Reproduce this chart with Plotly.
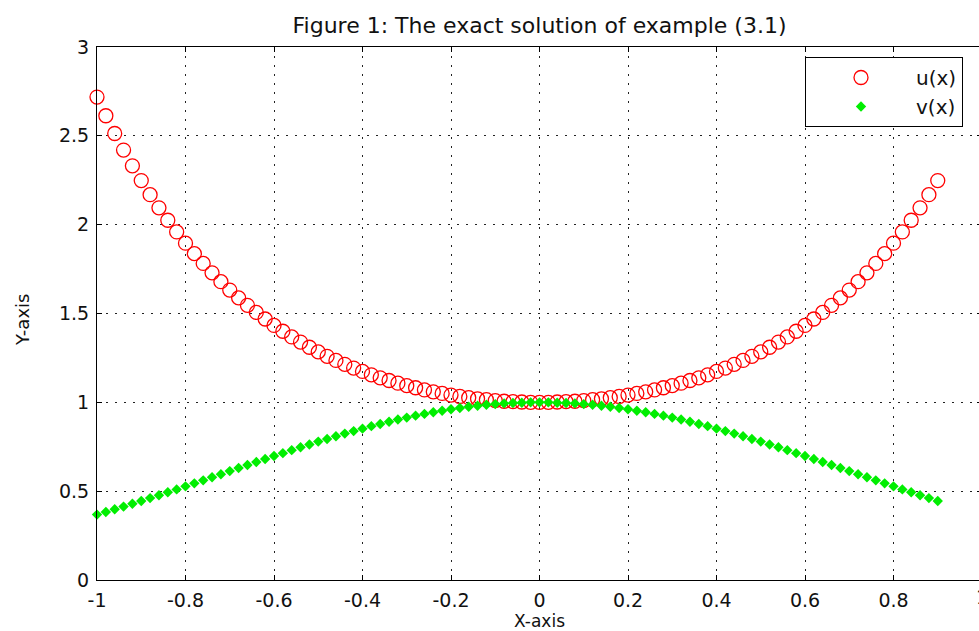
import plotly.graph_objects as go

x_vals = [-1.00, -0.98, -0.96, -0.94, -0.92, -0.90, -0.88, -0.86, -0.84, -0.82,
          -0.80, -0.78, -0.76, -0.74, -0.72, -0.70, -0.68, -0.66, -0.64, -0.62,
          -0.60, -0.58, -0.56, -0.54, -0.52, -0.50, -0.48, -0.46, -0.44, -0.42,
          -0.40, -0.38, -0.36, -0.34, -0.32, -0.30, -0.28, -0.26, -0.24, -0.22,
          -0.20, -0.18, -0.16, -0.14, -0.12, -0.10, -0.08, -0.06, -0.04, -0.02,
          0.00, 0.02, 0.04, 0.06, 0.08, 0.10, 0.12, 0.14, 0.16, 0.18,
          0.20, 0.22, 0.24, 0.26, 0.28, 0.30, 0.32, 0.34, 0.36, 0.38,
          0.40, 0.42, 0.44, 0.46, 0.48, 0.50, 0.52, 0.54, 0.56, 0.58,
          0.60, 0.62, 0.64, 0.66, 0.68, 0.70, 0.72, 0.74, 0.76, 0.78,
          0.80, 0.82, 0.84, 0.86, 0.88, 0.90]

u_vals = [2.718, 2.613, 2.513, 2.420, 2.331, 2.248, 2.169, 2.095, 2.025, 1.959,
          1.896, 1.837, 1.782, 1.729, 1.679, 1.632, 1.588, 1.546, 1.506, 1.469,
          1.433, 1.400, 1.368, 1.339, 1.310, 1.284, 1.259, 1.236, 1.214, 1.193,
          1.174, 1.155, 1.138, 1.123, 1.108, 1.094, 1.082, 1.070, 1.059, 1.050,
          1.041, 1.033, 1.026, 1.020, 1.015, 1.010, 1.006, 1.004, 1.002, 1.000,
          1.000, 1.000, 1.002, 1.004, 1.006, 1.010, 1.015, 1.020, 1.026, 1.033,
          1.041, 1.050, 1.059, 1.070, 1.082, 1.094, 1.108, 1.123, 1.138, 1.155,
          1.174, 1.193, 1.214, 1.236, 1.259, 1.284, 1.310, 1.339, 1.368, 1.400,
          1.433, 1.469, 1.506, 1.546, 1.588, 1.632, 1.679, 1.729, 1.782, 1.837,
          1.896, 1.959, 2.025, 2.095, 2.169, 2.248]

v_vals = [0.368, 0.383, 0.398, 0.413, 0.429, 0.445, 0.461, 0.477, 0.494, 0.510,
          0.527, 0.544, 0.561, 0.578, 0.595, 0.613, 0.630, 0.647, 0.664, 0.681,
          0.698, 0.714, 0.731, 0.747, 0.763, 0.779, 0.794, 0.809, 0.824, 0.838,
          0.852, 0.866, 0.878, 0.891, 0.903, 0.914, 0.925, 0.935, 0.944, 0.953,
          0.961, 0.968, 0.975, 0.981, 0.986, 0.990, 0.994, 0.996, 0.998, 1.000,
          1.000, 1.000, 0.998, 0.996, 0.994, 0.990, 0.986, 0.981, 0.975, 0.968,
          0.961, 0.953, 0.944, 0.935, 0.925, 0.914, 0.903, 0.891, 0.878, 0.866,
          0.852, 0.838, 0.824, 0.809, 0.794, 0.779, 0.763, 0.747, 0.731, 0.714,
          0.698, 0.681, 0.664, 0.647, 0.630, 0.613, 0.595, 0.578, 0.561, 0.544,
          0.527, 0.510, 0.494, 0.477, 0.461, 0.445]

x_tickvals = [-1, -0.8, -0.6, -0.4, -0.2, 0, 0.2, 0.4, 0.6, 0.8, 1]
x_ticktext = ["-1", "-0.8", "-0.6", "-0.4", "-0.2", "0", "0.2", "0.4", "0.6", "0.8", ""]
y_tickvals = [0, 0.5, 1, 1.5, 2, 2.5, 3]
y_ticktext = ["0", "0.5", "1", "1.5", "2", "2.5", "3"]
edge_label = "1"

FONT = "DejaVu Sans"
TXT = "#111111"

FIG_W, FIG_H = 985, 631
L, R, T, B = 97, 3, 47, 51
PW, PH = FIG_W - L - R, FIG_H - T - B

fig = go.Figure()
fig.add_trace(go.Scatter(
    x=x_vals, y=u_vals, mode="markers", name="u(x)",
    marker=dict(symbol="circle-open", size=14, color="#ff0000",
                line=dict(width=1.3, color="#ff0000")),
    cliponaxis=False,
))
fig.add_trace(go.Scatter(
    x=x_vals, y=v_vals, mode="markers", name="v(x)",
    marker=dict(symbol="diamond", size=8, color="#00ee00", line=dict(width=0)),
    cliponaxis=False,
))

axis_common = dict(
    showline=True, linecolor="black", linewidth=1,
    ticks="inside", ticklen=5, tickcolor="black", tickwidth=1,
    showgrid=True, gridcolor="#222222", gridwidth=1, griddash="2px,7px",
    zeroline=False, mirror="ticks", automargin=False, ticklabelstandoff=3,
    tickfont=dict(family=FONT, size=19, color=TXT),
)

fig.update_xaxes(range=[-1, 1], tickmode="array", tickvals=x_tickvals,
                 ticktext=x_ticktext, **axis_common)
fig.update_yaxes(range=[0, 3], tickmode="array", tickvals=y_tickvals,
                 ticktext=y_ticktext, **axis_common)

fig.update_layout(
    width=FIG_W, height=FIG_H,
    margin=dict(l=L, r=R, t=T, b=B),
    paper_bgcolor="white", plot_bgcolor="white",
    title=dict(text="Figure 1: The exact solution of example (3.1)",
               font=dict(family=FONT, size=22, color=TXT),
               x=0.5, xref="paper", xanchor="center",
               y=1 - 25 / FIG_H, yref="container", yanchor="middle"),
    showlegend=True,
    legend=dict(x=(805 - L) / PW, y=(FIG_H - B - 57) / PH, xanchor="left", yanchor="top",
                bgcolor="white", bordercolor="black", borderwidth=1,
                font=dict(family=FONT, size=20, color=TXT),
                itemwidth=100, tracegroupgap=4),
    annotations=[
        dict(text="X-axis", x=0.5, xref="paper", y=(FIG_H - B - 621) / PH, yref="paper",
             yanchor="middle", showarrow=False, font=dict(family=FONT, size=17, color=TXT)),
        dict(text="Y-axis", x=(22 - L) / PW, xref="paper", xanchor="center",
             y=(FIG_H - B - 320) / PH, yref="paper", yanchor="middle",
             showarrow=False, textangle=-90,
             font=dict(family=FONT, size=18, color=TXT)),
        dict(text=edge_label, x=x_tickvals[-1], xref="x", y=0, yref="y",
             yanchor="top", yshift=-4, showarrow=False,
             font=dict(family=FONT, size=19, color=TXT)),
    ],
)

fig.write_html("out.html", config={"displayModeBar": False})

with open("out.html", "r", encoding="utf-8") as f:
    html = f.read()
html = html.replace("<body>", '<body style="margin:0;overflow:hidden">', 1)
with open("out.html", "w", encoding="utf-8") as f:
    f.write(html)
